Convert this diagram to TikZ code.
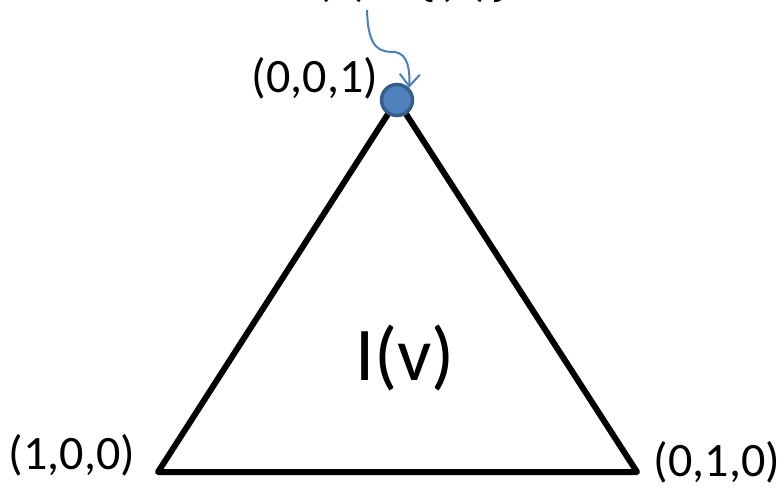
\documentclass[tikz,border=0pt]{standalone}
\usepackage{fontspec}
\setmainfont{Carlito}
\usetikzlibrary{arrows.meta}
\definecolor{dotfill}{HTML}{4F81BD}
\definecolor{dotedge}{HTML}{385D8A}
\definecolor{arrowblue}{HTML}{4A7EBB}
\tikzset{
  lbl/.style={font=\fontsize{48}{52}\selectfont, inner sep=0pt, anchor=base},
  tri/.style={line width=6pt, line join=round, line cap=round}
}
\begin{document}
\begin{tikzpicture}[x=1pt,y=-1pt]
\useasboundingbox (0,0) rectangle (784,488);
\begin{scope}
\clip (0,0) rectangle (784,488);
\node[lbl, font=\fontsize{52}{56}\selectfont] (top) at (405,-5) {I(v) = \{(v)\}};
\end{scope}
\coordinate (A) at (397,100);
\coordinate (B) at (158,472);
\coordinate (C) at (637,472);
\draw[tri] (A) -- (B) -- (C) -- cycle;
\node[draw=dotedge, fill=dotfill, line width=3.5pt, circle, minimum size=31pt, inner sep=0pt] (dot) at (A) {};
\coordinate (s) at (367,10);
\draw[arrowblue, line width=2pt, -{Straight Barb[length=12pt, width=20pt]}] (s) .. controls (368,50) and (380,52) .. (395,52) .. controls (408,54) and (410,70) .. (dot.north east);
\node[lbl] (l001) at (315,92) {(0,0,1)};
\node[lbl] (l100) at (72,469) {(1,0,0)};
\node[lbl] (l010) at (717,476) {(0,1,0)};
\node[lbl, font=\fontsize{76}{80}\selectfont] (iv) at (405,380) {I(v)};
\end{tikzpicture}
\end{document}
